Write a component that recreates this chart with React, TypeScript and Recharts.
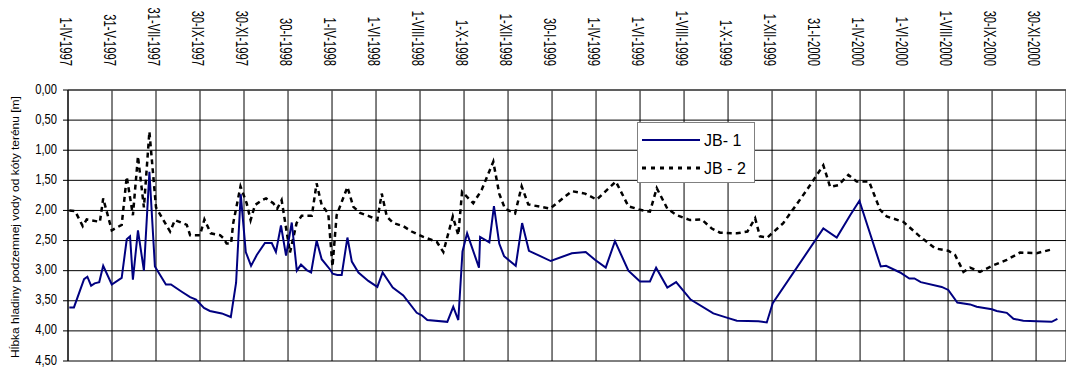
import React from 'react';
import { LineChart, Line, XAxis, YAxis, CartesianGrid, Legend } from 'recharts';

// x values: months elapsed since 1-IV-1997 (two months per labelled grid step)
const xTickLabels = [
  '1-IV-1997', '31-V-1997', '31-VII-1997', '30-IX-1997', '30-XI-1997', '30-I-1998',
  '1-IV-1998', '1-VI-1998', '1-VIII-1998', '1-X-1998', '1-XII-1998', '30-I-1999',
  '1-IV-1999', '1-VI-1999', '1-VIII-1999', '1-X-1999', '1-XII-1999', '31-I-2000',
  '1-IV-2000', '1-VI-2000', '1-VIII-2000', '30-IX-2000', '30-XI-2000',
];
const xTickMonths = [0, 2, 4, 6, 8, 10, 12, 14, 16, 18, 20, 22, 24, 26, 28, 30, 32, 34, 36, 38, 40, 42, 44];
const yTicks = [0, 0.5, 1, 1.5, 2, 2.5, 3, 3.5, 4, 4.5];

const jb1Months = [
  0.06, 0.27, 0.73, 0.88, 1.05, 1.21, 1.42, 1.6, 1.99, 2.44,
  2.67, 2.82, 2.95, 3.18, 3.45, 3.7, 3.95, 4.45, 4.68, 5.17,
  5.55, 5.82, 6.18, 6.45, 6.99, 7.4, 7.64, 7.85, 8.08, 8.32,
  8.58, 8.95, 9.26, 9.45, 9.68, 9.91, 10.17, 10.4, 10.59, 10.85,
  11.05, 11.3, 11.53, 11.91, 12.03, 12.24, 12.44, 12.7, 12.9, 13.2,
  13.65, 14.06, 14.3, 14.76, 15.24, 15.85, 16.08, 16.33, 17.24, 17.51,
  17.74, 17.93, 18.14, 18.68, 18.73, 19.15, 19.36, 19.6, 19.82, 20.35,
  20.64, 20.95, 21.94, 22.9, 23.53, 23.95, 24.44, 24.86, 25.47, 26.0,
  26.45, 26.73, 27.24, 27.64, 28.3, 29.33, 29.94, 30.4, 31.38, 31.76,
  32.03, 34.33, 34.94, 35.55, 35.97, 36.94, 37.18, 37.82, 38.24, 38.47,
  38.76, 39.71, 40.01, 40.42, 41.0, 41.3, 41.99, 42.21, 42.67, 42.97,
  43.42, 44.03, 44.71, 44.97,
];
const jb1Depth = [
  3.61, 3.61, 3.14, 3.1, 3.25, 3.21, 3.19, 2.92, 3.23, 3.12,
  2.48, 2.43, 3.15, 2.33, 3.0, 1.36, 2.93, 3.23, 3.23, 3.35,
  3.44, 3.48, 3.62, 3.67, 3.71, 3.77, 3.2, 1.73, 2.69, 2.92,
  2.74, 2.54, 2.54, 2.69, 2.25, 2.75, 2.2, 3.0, 2.9, 2.99,
  3.03, 2.5, 2.81, 2.98, 3.05, 3.07, 3.07, 2.45, 2.85, 3.03,
  3.17, 3.27, 3.03, 3.28, 3.41, 3.7, 3.74, 3.82, 3.85, 3.6,
  3.82, 2.68, 2.38, 2.95, 2.44, 2.53, 1.93, 2.55, 2.76, 2.92,
  2.21, 2.67, 2.84, 2.71, 2.69, 2.82, 2.95, 2.51, 3.0, 3.18,
  3.18, 2.95, 3.28, 3.19, 3.48, 3.71, 3.78, 3.83, 3.84, 3.86,
  3.54, 2.3, 2.45, 2.08, 1.84, 2.93, 2.92, 3.03, 3.13, 3.13,
  3.19, 3.27, 3.32, 3.53, 3.56, 3.6, 3.64, 3.67, 3.7, 3.8,
  3.83, 3.84, 3.85, 3.8,
];

const jb2Months = [
  0.06, 0.32, 0.67, 0.85, 1.45, 1.6, 1.99, 2.44, 2.67, 2.95,
  3.18, 3.45, 3.7, 4.0, 4.64, 4.86, 5.4, 5.55, 6.0, 6.2,
  6.49, 6.91, 7.06, 7.21, 7.41, 7.51, 7.84, 8.12, 8.3, 8.5,
  8.82, 9.0, 9.33, 9.51, 9.71, 10.09, 10.39, 10.62, 11.08, 11.3,
  11.53, 11.83, 12.02, 12.21, 12.7, 12.97, 13.27, 13.65, 14.06, 14.26,
  14.49, 14.79, 15.24, 15.62, 16.15, 16.76, 17.06, 17.49, 17.74, 17.91,
  18.42, 18.8, 19.33, 19.6, 19.86, 20.32, 20.62, 20.92, 21.91, 22.9,
  23.5, 24.03, 24.9, 25.47, 26.0, 26.45, 26.76, 27.24, 27.67, 28.27,
  28.8, 29.26, 29.64, 30.4, 30.88, 31.23, 31.45, 31.79, 32.51, 33.58,
  34.33, 34.64, 35.01, 35.47, 35.85, 36.41, 36.91, 37.21, 37.97, 38.65,
  39.41, 40.01, 40.32, 40.7, 41.0, 41.45, 42.06, 42.67, 43.27, 44.03,
  44.79,
];
const jb2Depth = [
  2.0, 2.01, 2.26, 2.15, 2.19, 1.8, 2.33, 2.24, 1.44, 2.08,
  1.1, 1.95, 0.69, 1.95, 2.35, 2.16, 2.24, 2.41, 2.41, 2.15,
  2.38, 2.41, 2.46, 2.55, 2.55, 2.21, 1.6, 1.88, 2.16, 1.91,
  1.83, 1.8, 1.88, 1.97, 1.83, 2.7, 2.21, 2.09, 2.09, 1.55,
  1.91, 2.05, 2.93, 2.08, 1.61, 1.94, 2.04, 2.09, 2.16, 1.72,
  2.1, 2.21, 2.26, 2.35, 2.44, 2.52, 2.69, 2.1, 2.41, 1.69,
  1.88, 1.66, 1.19, 1.72, 1.97, 2.05, 1.6, 1.9, 1.97, 1.68,
  1.72, 1.82, 1.52, 1.93, 1.99, 2.02, 1.63, 1.97, 2.08, 2.16,
  2.15, 2.3, 2.37, 2.38, 2.35, 2.13, 2.43, 2.45, 2.21, 1.66,
  1.25, 1.61, 1.58, 1.41, 1.52, 1.52, 1.99, 2.1, 2.19, 2.41,
  2.63, 2.67, 2.74, 3.02, 2.95, 3.02, 2.91, 2.82, 2.7, 2.71,
  2.64,
];

const seriesNames = ['JB- 1', 'JB - 2'];
const yTitle = 'Hĺbka hladiny podzemnej vody od kóty terénu [m]';

const jb1Data = jb1Months.map((m, i) => ({ m, d: jb1Depth[i] }));
const jb2Data = jb2Months.map((m, i) => ({ m, d: jb2Depth[i] }));

const FONT = '"Liberation Sans", Arial, sans-serif';

const XTick = (props: any) => {
  const { x, payload } = props;
  const idx = xTickMonths.indexOf(payload.value);
  const label = idx >= 0 ? xTickLabels[idx] : '';
  return (
    <text
      transform={`translate(${x - 8}, 66) rotate(90) scale(0.7, 1)`}
      textAnchor="end"
      fontSize={16}
      fontFamily={FONT}
      fill="#000"
    >
      {label}
    </text>
  );
};

const YTick = (props: any) => {
  const { y, payload } = props;
  const label = Number(payload.value).toFixed(2).replace('.', ',');
  return (
    <text
      transform={`translate(57, ${y + 3.5}) scale(0.8, 1)`}
      textAnchor="end"
      fontSize={14}
      fontFamily={FONT}
      fill="#000"
    >
      {label}
    </text>
  );
};

const LegendBox = () => (
  <div
    style={{
      width: 118,
      height: 61,
      boxSizing: 'border-box',
      border: '1px solid #808080',
      background: '#fff',
    }}
  >
    <svg width={116} height={59} style={{ display: 'block' }}>
      <line x1={4} y1={17} x2={62} y2={17} stroke="#000080" strokeWidth={2} />
      <text x={66} y={23} fontSize={16} fontFamily={FONT} fill="#000">{seriesNames[0]}</text>
      <line x1={4} y1={45} x2={62} y2={45} stroke="#000" strokeWidth={3} strokeDasharray="4 5" />
      <text x={66} y={51} fontSize={16} fontFamily={FONT} fill="#000">{seriesNames[1]}</text>
    </svg>
  </div>
);

export default function App() {
  return (
    <div style={{ position: 'absolute', left: 0, top: 0, width: 1066, height: 371, background: '#fff' }}>
      <LineChart width={1066} height={371} margin={{ top: 0, right: 0, bottom: 10, left: 0 }}>
        <CartesianGrid stroke="#000" strokeWidth={1} />
        <XAxis
          dataKey="m"
          type="number"
          orientation="top"
          height={90}
          domain={[0, 45.36]}
          ticks={xTickMonths}
          interval={0}
          allowDataOverflow
          tick={<XTick />}
          tickLine={false}
          axisLine={{ stroke: '#555', strokeWidth: 1.5 }}
        />
        <YAxis
          type="number"
          reversed
          domain={[0, 4.5]}
          ticks={yTicks}
          interval={0}
          width={68}
          tick={<YTick />}
          tickSize={5}
          tickLine={{ stroke: '#000' }}
          axisLine={{ stroke: '#000' }}
        />
        <Legend
          layout="horizontal"
          verticalAlign="middle"
          align="center"
          content={<LegendBox />}
          wrapperStyle={{ left: 637, top: 122, width: 118, height: 61 }}
        />
        <Line
          data={jb2Data}
          dataKey="d"
          name={seriesNames[1]}
          type="linear"
          stroke="#000"
          strokeWidth={2.5}
          strokeDasharray="5 4"
          dot={false}
          isAnimationActive={false}
        />
        <Line
          data={jb1Data}
          dataKey="d"
          name={seriesNames[0]}
          type="linear"
          stroke="#000080"
          strokeWidth={2}
          dot={false}
          isAnimationActive={false}
        />
      </LineChart>
      <svg
        width={30}
        height={371}
        style={{ position: 'absolute', left: 0, top: 0, pointerEvents: 'none' }}
      >
        <text
          transform="translate(19, 227) rotate(-90) scale(1.2, 1)"
          textAnchor="middle"
          fontSize={10}
          fontFamily={FONT}
          fill="#000"
        >
          {yTitle}
        </text>
      </svg>
    </div>
  );
}
